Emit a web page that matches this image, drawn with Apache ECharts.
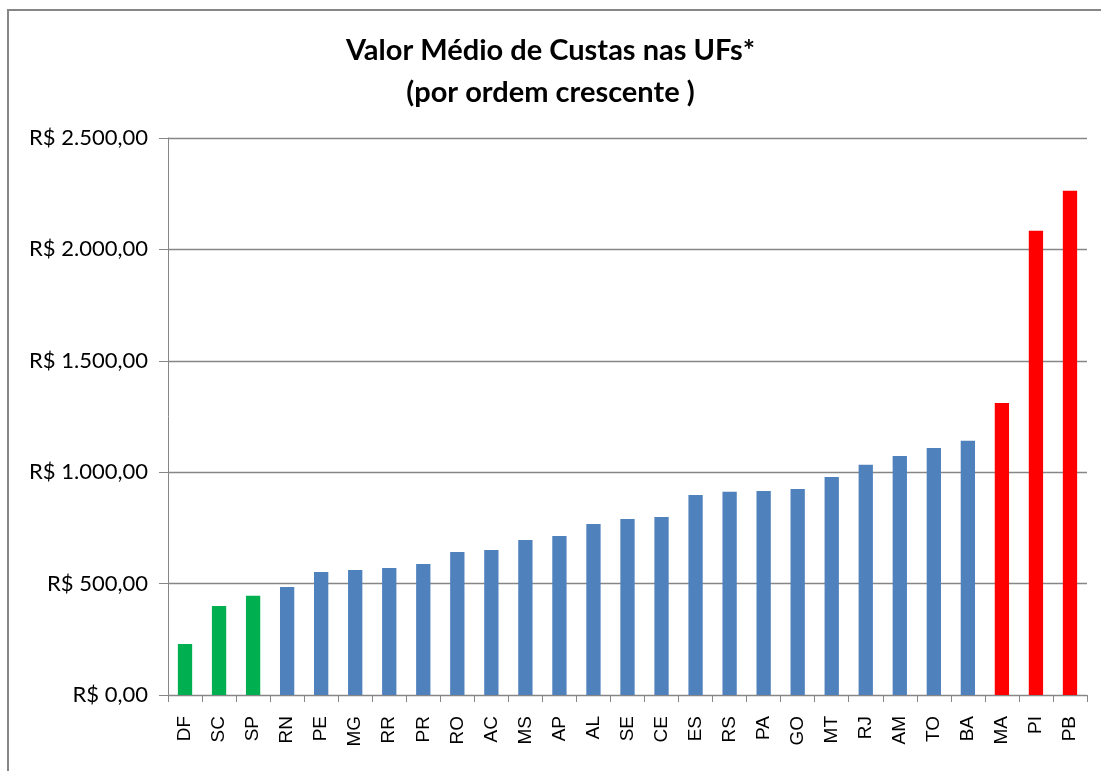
<!DOCTYPE html>
<html>
<head>
<meta charset="utf-8">
<script src="https://cdn.jsdelivr.net/npm/echarts@6/dist/echarts.min.js"></script>
<style>
    html, body { margin: 0; padding: 0; background: #fff; }
    #chart { width: 1101px; height: 771px; }
</style>
</head>
<body>
<div id="chart"></div>
<script>
// UFs em ordem crescente de custas
var ufs = ['DF', 'SC', 'SP', 'RN', 'PE', 'MG', 'RR', 'PR', 'RO', 'AC', 'MS', 'AP', 'AL', 'SE',
    'CE', 'ES', 'RS', 'PA', 'GO', 'MT', 'RJ', 'AM', 'TO', 'BA', 'MA', 'PI', 'PB'];
var valores = [229, 400, 445, 485, 552, 561, 570, 588, 642, 651, 696, 714, 768, 790,
    799, 898, 912, 916, 925, 979, 1033, 1073, 1109, 1141, 1311, 2084, 2263];
// faixa de cada UF: baixo / medio / alto
var faixas = ['baixo', 'baixo', 'baixo', 'medio', 'medio', 'medio', 'medio', 'medio', 'medio',
    'medio', 'medio', 'medio', 'medio', 'medio', 'medio', 'medio', 'medio', 'medio', 'medio',
    'medio', 'medio', 'medio', 'medio', 'medio', 'alto', 'alto', 'alto'];
var yTicks = [0, 500, 1000, 1500, 2000, 2500];

var corFaixa = {baixo: '#00B050', medio: '#4F81BD', alto: '#FF0000'};

function formatReal(v) {
    let s = String(Math.round(v));
    s = s.replace(/\B(?=(\d{3})+(?!\d))/g, '.');
    return 'R$ ' + s + ',00';
}

var myChart = echarts.init(document.getElementById('chart'));

let barData = new Array();
for (let i = 0; i < valores.length; i++) {
    barData.push({
        value: valores[i],
        itemStyle: {color: corFaixa[faixas[i]]}
    });
}

myChart.setOption({
    animation: false,
    title: {
        text: 'Valor Médio de Custas nas UFs*\n(por ordem crescente )',
        left: 'center',
        top: 25,
        textStyle: {
            fontFamily: 'Lato',
            fontWeight: 'bold',
            fontSize: 29,
            lineHeight: 42,
            color: '#000'
        }
    },
    graphic: [{
        type: 'rect',
        shape: {x: 8, y: 10, width: 1200, height: 900},
        style: {fill: 'none', stroke: '#868686', lineWidth: 2}
    }],
    grid: {
        left: 168,
        right: 14,
        top: 138,
        bottom: 76,
        containLabel: false,
        outerBoundsMode: 'none'
    },
    xAxis: {
        type: 'category',
        data: ufs,
        axisLine: {lineStyle: {color: '#868686', width: 1}},
        axisTick: {show: true, length: 7, alignWithLabel: false, lineStyle: {color: '#868686'}},
        axisLabel: {
            rotate: 90,
            interval: 0,
            margin: 21,
            fontFamily: 'Liberation Sans',
            fontSize: 19,
            color: '#000'
        }
    },
    yAxis: {
        type: 'value',
        min: yTicks[0],
        max: yTicks[yTicks.length - 1],
        interval: 500,
        axisLine: {show: true, lineStyle: {color: '#868686', width: 1}},
        axisTick: {show: true, length: 9, lineStyle: {color: '#868686'}},
        splitLine: {lineStyle: {color: '#868686', width: 1.3}},
        axisLabel: {
            margin: 20,
            fontFamily: 'Lato',
            fontSize: 22,
            color: '#000',
            formatter: formatReal
        }
    },
    series: [{
        type: 'bar',
        barWidth: '42%',
        data: barData
    }]
});

window.onresize = function () {
    myChart.resize();
}
</script>
</body>
</html>
